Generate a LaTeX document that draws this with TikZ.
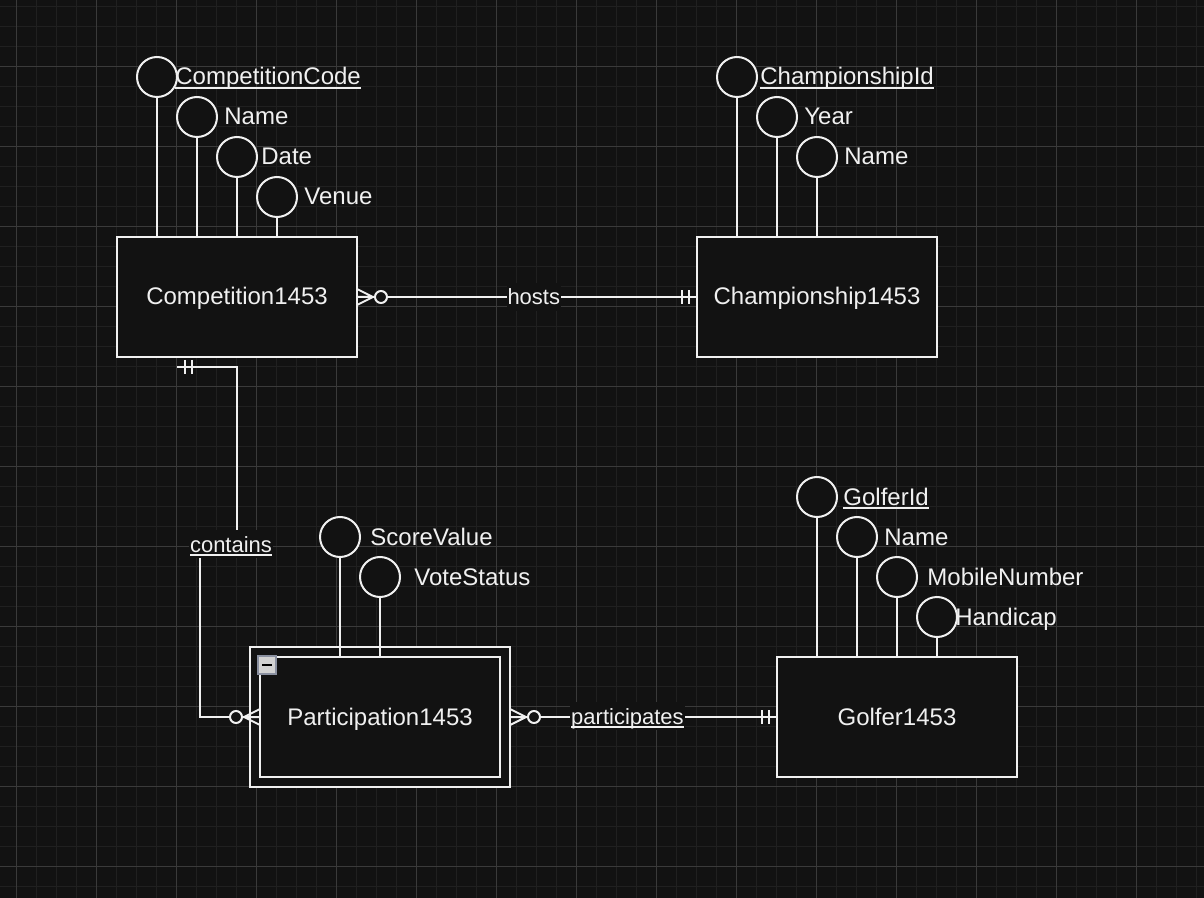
\documentclass[tikz,border=0pt]{standalone}
\usepackage{fontspec}
\setmainfont{Liberation Sans}
\usetikzlibrary{positioning}

\definecolor{canvas}{HTML}{121212}
\definecolor{gridminor}{HTML}{202020}
\definecolor{gridmajor}{HTML}{3A3A3A}
\definecolor{ink}{HTML}{F0F0F0}
\definecolor{iconfill}{HTML}{D2D2D2}
\definecolor{iconedge}{HTML}{8A90A0}

% underline for key attributes
\newcommand{\keyattr}[1]{\setbox0=\hbox{#1}\rlap{\rule[-2.1pt]{\wd0}{1pt}}\box0}

\begin{document}
\begin{tikzpicture}[
    x=0.5pt, y=-0.5pt,
    every node/.style={font=\fontsize{12}{14}\selectfont, text=ink},
    entity/.style={rectangle, draw=ink, fill=canvas, line width=1pt, minimum width=120pt, minimum height=60pt, outer sep=0pt, text height=8pt, text depth=0pt},
    attr/.style={circle, draw=ink, fill=canvas, line width=1pt, minimum size=20pt, inner sep=0pt, outer sep=0pt},
    attrtext/.style={inner sep=0pt, text height=8pt, text depth=0pt},
    attrline/.style={draw=ink, line width=1pt},
    rel/.style={draw=ink, line width=1pt},
    edgelabel/.style={font=\fontsize{11}{13}\selectfont, fill=canvas, inner xsep=0.5pt, inner ysep=3pt, text height=8pt, text depth=0pt},
    toggle/.style={rectangle, draw=iconedge, fill=iconfill, line width=1pt, minimum size=9pt, inner sep=0pt, text=black},
    erone/.pic={\draw[rel] (8,-7) -- (8,7) (15,-7) -- (15,7);},
    ermany/.pic={\draw[rel] (0,-8) -- (16,0) -- (0,8) (0,0) -- (18,0);
                 \draw[rel, fill=canvas] (24,0) circle[radius=3pt];}
]
\useasboundingbox (0,0) rectangle (1204,898);
\fill[canvas] (0,0) rectangle (1204,898);
\foreach \gx in {0,...,59} \draw[gridminor, line width=0.6pt] ({16.67+20*\gx},0) -- ++(0,898);
\foreach \gy in {0,...,44} \draw[gridminor, line width=0.6pt] (0,{6.67+20*\gy}) -- ++(1204,0);
\foreach \gx in {0,...,14} \draw[gridmajor, line width=0.5pt] ({16.67+80*\gx},0) -- ++(0,898);
\foreach \gy in {0,...,10} \draw[gridmajor, line width=0.5pt] (0,{66.67+80*\gy}) -- ++(1204,0);

% entities
\node[entity] (comp) at (237,297) {Competition1453};
\node[entity] (champ) at (817,297) {Championship1453};
\node[entity] (golfer) at (897,717) {Golfer1453};
\node[entity, minimum width=130pt, minimum height=70pt] (partouter) at (380,717) {};
\node[entity] (part) at (partouter) {Participation1453};
\node[toggle] (parttoggle) at (267,665) {\rule{5pt}{1.3pt}};

% Competition attributes
\node[attr] (compcode) at (157,77) {};
\node[attr] (compname) at (197,117) {};
\node[attr] (compdate) at (237,157) {};
\node[attr] (compvenue) at (277,197) {};
\node[attrtext, right=-1pt of compcode] {\keyattr{CompetitionCode}};
\node[attrtext, right=3.5pt of compname] {Name};
\node[attrtext, right=2pt of compdate] {Date};
\node[attrtext, right=3.5pt of compvenue] {Venue};
\foreach \a in {compcode, compname, compdate, compvenue}
    \draw[attrline] (\a) -- (\a |- comp.north);

% Championship attributes
\node[attr] (champid) at (737,77) {};
\node[attr] (champyear) at (777,117) {};
\node[attr] (champname) at (817,157) {};
\node[attrtext, right=1.5pt of champid] {\keyattr{ChampionshipId}};
\node[attrtext, right=3.5pt of champyear] {Year};
\node[attrtext, right=3.5pt of champname] {Name};
\foreach \a in {champid, champyear, champname}
    \draw[attrline] (\a) -- (\a |- champ.north);

% Golfer attributes
\node[attr] (golfid) at (817,497) {};
\node[attr] (golfname) at (857,537) {};
\node[attr] (golfmobile) at (897,577) {};
\node[attr] (golfhcp) at (937,617) {};
\node[attrtext, right=3pt of golfid] {\keyattr{GolferId}};
\node[attrtext, right=3.5pt of golfname] {Name};
\node[attrtext, right=5pt of golfmobile] {MobileNumber};
\node[attrtext, right=-1pt of golfhcp] {Handicap};
\foreach \a in {golfid, golfname, golfmobile, golfhcp}
    \draw[attrline] (\a) -- (\a |- golfer.north);

% Participation attributes
\node[attr] (partscore) at (340,537) {};
\node[attr] (partvote) at (380,577) {};
\node[attrtext, right=5pt of partscore] {ScoreValue};
\node[attrtext, right=7pt of partvote] {VoteStatus};
\foreach \a in {partscore, partvote}
    \draw[attrline] (\a) -- (\a |- part.north);

% relationships
\draw[rel] (comp.east) -- node[edgelabel, pos=0.52] (hostslbl) {hosts} (champ.west);
\pic at (comp.east) {ermany};
\pic[rotate=180] at (champ.west) {erone};

\draw[rel] (partouter.east) -- node[edgelabel, pos=0.44, yshift=0.5pt] (partlbl) {\keyattr{participates}} (golfer.west);
\pic at (partouter.east) {ermany};
\pic[rotate=180] at (golfer.west) {erone};

\coordinate (cstart) at (177,367);
\draw[rel] (cstart) -- (237,367) -- (237,545) -- (200,545) -- (200,717) -- (part.west);
\node[edgelabel] (containslbl) at (231,544) {\keyattr{contains}};
\pic at (cstart) {erone};
\pic[rotate=180] at (part.west) {ermany};
\end{tikzpicture}
\end{document}
